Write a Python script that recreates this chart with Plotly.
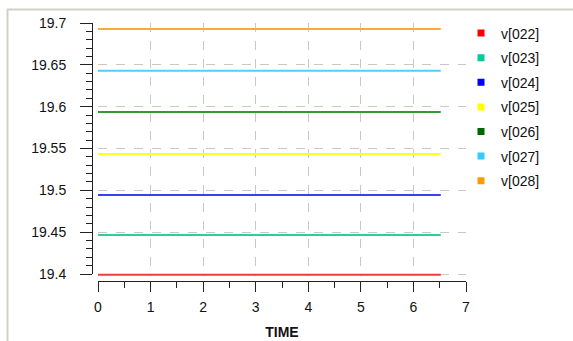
import plotly.graph_objects as go

names = ["v[022]", "v[023]", "v[024]", "v[025]", "v[026]", "v[027]", "v[028]"]
values = [19.399, 19.4465, 19.4945, 19.5435, 19.5935, 19.6428, 19.6928]
legend_colors = ["#ff0000", "#00cc99", "#0000ff", "#ffff00", "#006600", "#33ccff", "#ff9900"]
line_colors = ["#f03c3c", "#33cc99", "#3344ee", "#ffff22", "#339933", "#55ccff", "#ffaa33"]
t_start, t_end = 0.0, 6.52
x_ticks = [0, 1, 2, 3, 4, 5, 6, 7]
y_ticks = [19.4, 19.45, 19.5, 19.55, 19.6, 19.65, 19.7]
y_min, y_max = 19.4, 19.7

W, H = 573, 341
L, R, T, B = 92, 107, 15, 60
pw, ph = W - L - R, H - T - B
# pixel geometry of the plot area inside the paper area
x_left_px, y_top_px, y_bot_px = 98, 23, 274
xdom0 = (x_left_px - L) / pw
ydom_top = 1 - (y_top_px - T) / ph
ydom0 = (H - B - y_bot_px) / ph
ext_px = 2
per_px = (y_max - y_min) / (y_bot_px - y_top_px)

fig = go.Figure()
for n, v, c in zip(names, values, line_colors):
    fig.add_trace(go.Scatter(x=[t_start, t_end], y=[v, v], mode="lines",
                             line=dict(color=c, width=2), showlegend=False,
                             hoverinfo="skip"))
for i, (n, c) in enumerate(zip(names, legend_colors)):
    fig.add_trace(go.Scatter(x=[None], y=[None], mode="markers", name=n,
                             legendgroup="g%d" % i,
                             marker=dict(symbol="square", size=7, color=c)))
# helper trace for offset axis lines
fig.add_trace(go.Scatter(x=[None], y=[None], xaxis="x2", yaxis="y2",
                         showlegend=False, hoverinfo="skip"))

grid = dict(showgrid=True, gridcolor="#c8c8c8", griddash="dash", gridwidth=1,
            zeroline=False, showline=False, ticks="", showticklabels=False,
            automargin=False)
axc = "#222222"
fs = 14
fig.update_layout(
    template="none",
    width=W, height=H,
    margin=dict(l=L, r=R, t=T, b=B, pad=0, autoexpand=False),
    paper_bgcolor="white", plot_bgcolor="rgba(0,0,0,0)",
    font=dict(family="Liberation Sans, Arial, sans-serif", size=fs, color="#111111"),
    xaxis=dict(domain=[xdom0, 1], range=[0, 7], tickvals=x_ticks, **grid),
    yaxis=dict(domain=[ydom0 - ext_px / ph, ydom_top],
               range=[y_min - ext_px * per_px, y_max], tickvals=y_ticks, **grid),
    xaxis2=dict(domain=[xdom0, 1], anchor="free", position=0, range=[0, 7],
                tickvals=x_ticks, ticks="outside", ticklen=10, tickwidth=1,
                tickcolor=axc, showline=True, linecolor=axc, linewidth=1,
                showgrid=False, zeroline=False, automargin=False,
                tickfont=dict(size=fs),
                minor=dict(dtick=0.5, ticks="outside", ticklen=6, tickcolor=axc, showgrid=False),
                ticklabelstandoff=3,
                title=dict(text="<b>TIME</b>", font=dict(size=14), standoff=13)),
    yaxis2=dict(domain=[ydom0, ydom_top], anchor="free", position=0, range=[y_min, y_max],
                tickvals=y_ticks, ticktext=[str(v) for v in y_ticks],
                ticks="outside", ticklen=12, tickwidth=1,
                tickcolor=axc, showline=True, linecolor=axc, linewidth=1,
                showgrid=False, zeroline=False, automargin=False,
                tickfont=dict(size=fs),
                minor=dict(dtick=0.01, tick0=19.4, ticks="outside", ticklen=6, tickcolor=axc, showgrid=False),
                ticklabelstandoff=11),
    legend=dict(x=(461 - L) / pw, xanchor="left", y=1 - (17.5 - T) / ph, yanchor="top",
                tracegroupgap=3.4, traceorder="grouped", bgcolor="rgba(0,0,0,0)",
                borderwidth=0, font=dict(size=fs)),
    shapes=[
        dict(type="line", xref="paper", yref="paper",
             x0=(7 - L) / pw, x1=(W - L) / pw, y0=1 + (T - 9.5) / ph, y1=1 + (T - 9.5) / ph,
             line=dict(color="#d4d0c8", width=2)),
        dict(type="line", xref="paper", yref="paper",
             x0=(7.5 - L) / pw, x1=(7.5 - L) / pw, y0=1 + (T - 9) / ph, y1=-(B) / ph,
             line=dict(color="#d4d0c8", width=2)),
    ],
)
fig.write_html("out.html")
